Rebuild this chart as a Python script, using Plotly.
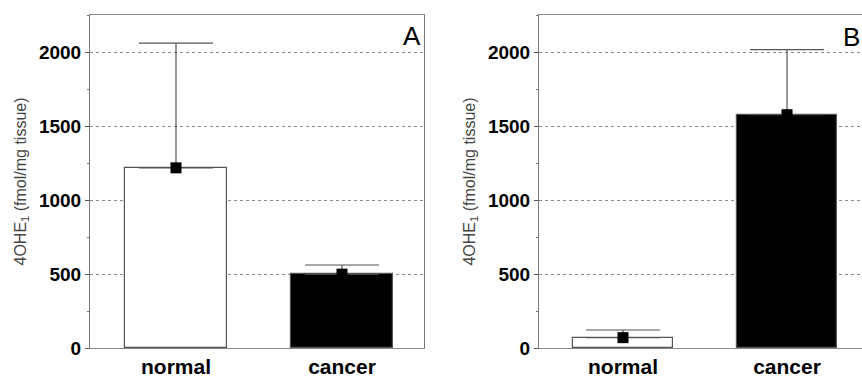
import plotly.graph_objects as go

categories = ["normal", "cancer"]
a_means = [1220, 500]
a_err = [845, 62]
b_means = [70, 1580]
b_err = [52, 440]
bar_colors = ["white", "black"]
y_ticks = [0, 500, 1000, 1500, 2000]
y_title = "4OHE<sub>1</sub> (fmol/mg tissue)"

fig = go.Figure()

for means, errs, xa, ya in [(a_means, a_err, "x", "y"), (b_means, b_err, "x2", "y2")]:
    fig.add_trace(go.Bar(
        x=categories, y=means, width=0.61, xaxis=xa, yaxis=ya,
        marker=dict(color=bar_colors, line=dict(color="#555555", width=1.2)),
        showlegend=False,
    ))
    fig.add_trace(go.Scatter(
        x=categories, y=means, mode="markers", xaxis=xa, yaxis=ya,
        marker=dict(symbol="square", size=11, color="black"),
        error_y=dict(type="data", array=errs, arrayminus=[0, 0], symmetric=False,
                     color="#555555", thickness=1.2, width=37),
        showlegend=False,
    ))

ydom = [30/378, 1 - 15/378]
grid = dict(showgrid=True, gridcolor="#8a8a8a", griddash="dot", gridwidth=1)
yax = dict(range=[0, 2255], tickvals=y_ticks, ticks="outside", ticklen=4, tickcolor="#555",
           tickfont=dict(family="Arial", size=19, color="black", weight="bold"),
           showline=True, linecolor="#777", linewidth=1, zeroline=False, automargin=False,
           domain=ydom,
           minor=dict(tickmode="linear", tick0=0, dtick=250, ticks="outside", ticklen=2,
                      tickcolor="#777", showgrid=False),
           title=dict(text=y_title, font=dict(family="Arial", size=16, color="#444"), standoff=8),
           layer="below traces", **grid)
xax_font = dict(family="Arial", size=21, color="black", weight="bold")

fig.update_layout(
    width=862, height=378,
    margin=dict(l=0, r=0, t=0, b=0),
    paper_bgcolor="white", plot_bgcolor="white",
    bargap=0,
    xaxis=dict(domain=[90/862, 424/862], range=[-0.518, 1.494], type="category",
               showline=True, mirror=True, linecolor="#888", linewidth=1, ticks="",
               tickfont=xax_font, showgrid=False, automargin=False),
    yaxis=dict(**yax, mirror=True),
    xaxis2=dict(domain=[539/862, 1.0], range=[-0.512, 1.457], type="category", anchor="y2",
                showline=True, mirror=True, linecolor="#888", linewidth=1, ticks="",
                tickfont=xax_font, showgrid=False, automargin=False),
    yaxis2=dict(**yax, anchor="x2"),
    annotations=[
        dict(text="A", x=423/862, y=1 - 36/378, xref="paper", yref="paper", xanchor="right", yanchor="middle",
             showarrow=False, font=dict(family="Arial", size=26, color="black")),
        dict(text="B", x=1.0, y=1 - 37/378, xref="paper", yref="paper", xanchor="right", yanchor="middle",
             showarrow=False, font=dict(family="Arial", size=26, color="black")),
    ],
)

fig.write_html("out.html", config={"displayModeBar": False},
               post_script="document.body.style.margin='0px';document.body.style.padding='0px';")
